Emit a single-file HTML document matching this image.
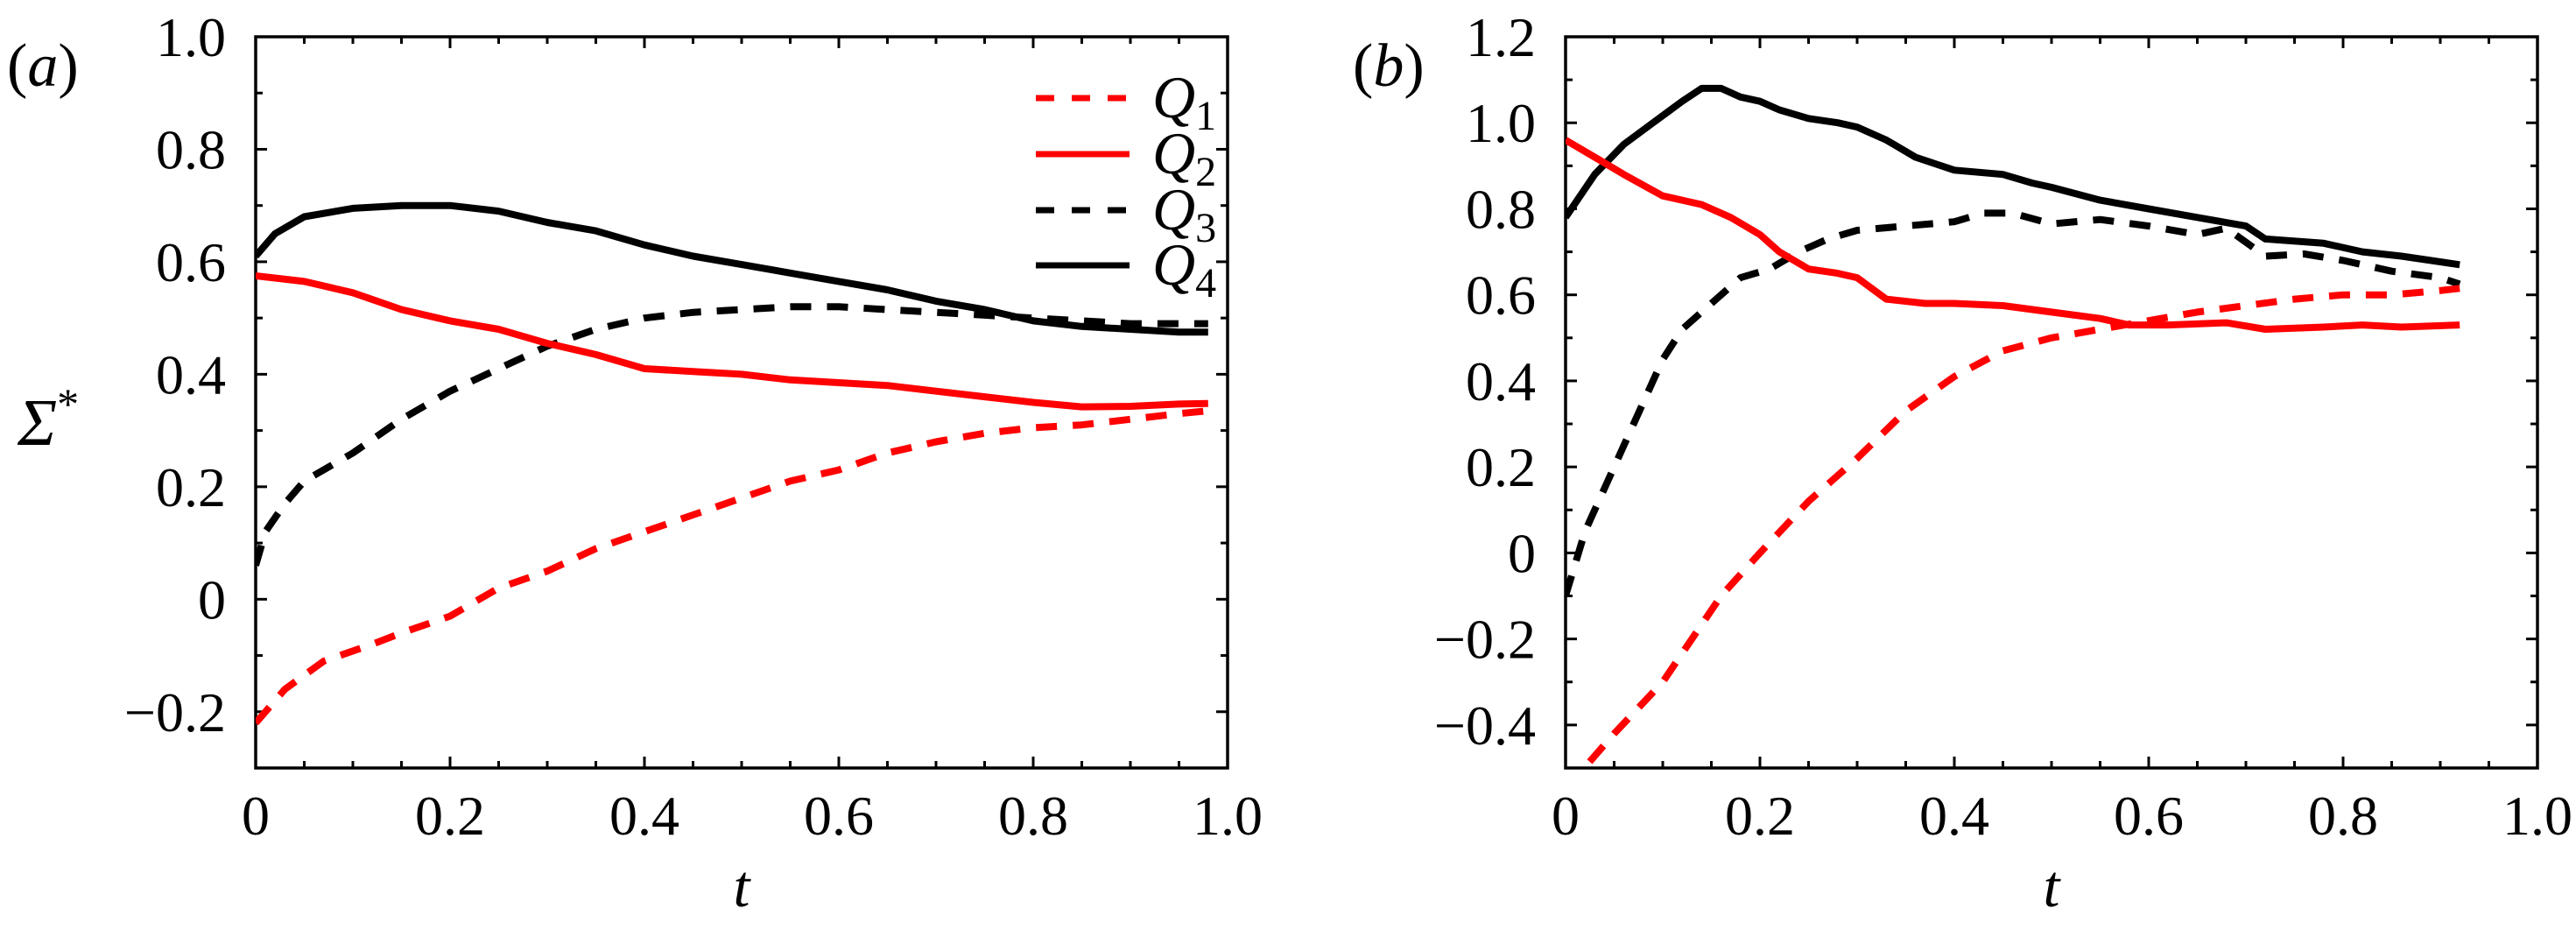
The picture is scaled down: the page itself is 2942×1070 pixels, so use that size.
<!DOCTYPE html>
<html><head><meta charset="utf-8">
<style>
html,body{margin:0;padding:0;background:#fff;}
svg{display:block;}
text{font-family:"Liberation Serif","DejaVu Serif",serif;fill:#000;}
</style></head>
<body>
<svg id="fig" width="2942" height="1070" viewBox="0 0 2942 1070" xmlns="http://www.w3.org/2000/svg">
<defs>
<clipPath id="clipA"><rect x="292" y="42" width="1110" height="835"/></clipPath>
<clipPath id="clipB"><rect x="1788" y="42" width="1110" height="835"/></clipPath>
</defs>
</svg>
<script>
// ---- Panel (a) data ----
const aQ1t = [0,0.03,0.07,0.12,0.15,0.2,0.25,0.3,0.35,0.4,0.45,0.5,0.55,0.6,0.65,0.7,0.75,0.8,0.85,0.9,0.95,0.98];
const aQ1v = [-0.22,-0.16,-0.11,-0.08,-0.06,-0.03,0.02,0.05,0.09,0.12,0.15,0.18,0.21,0.23,0.26,0.28,0.295,0.305,0.31,0.32,0.33,0.335];
const aQ2t = [0,0.05,0.1,0.15,0.2,0.25,0.3,0.35,0.4,0.45,0.5,0.55,0.6,0.65,0.7,0.75,0.8,0.85,0.9,0.95,0.98];
const aQ2v = [0.575,0.565,0.545,0.515,0.495,0.48,0.455,0.435,0.41,0.405,0.4,0.39,0.385,0.38,0.37,0.36,0.35,0.342,0.343,0.347,0.348];
const aQ3t = [0,0.01,0.03,0.05,0.1,0.15,0.2,0.25,0.3,0.35,0.4,0.45,0.5,0.55,0.6,0.65,0.7,0.75,0.8,0.85,0.9,0.95,0.98];
const aQ3v = [0.06,0.12,0.17,0.21,0.26,0.32,0.37,0.41,0.45,0.48,0.5,0.51,0.515,0.52,0.52,0.515,0.51,0.505,0.5,0.495,0.49,0.49,0.49];
const aQ4t = [0,0.02,0.05,0.1,0.15,0.2,0.25,0.3,0.35,0.4,0.45,0.5,0.55,0.6,0.65,0.7,0.75,0.8,0.85,0.9,0.95,0.98];
const aQ4v = [0.61,0.65,0.68,0.695,0.7,0.7,0.69,0.67,0.655,0.63,0.61,0.595,0.58,0.565,0.55,0.53,0.515,0.495,0.485,0.48,0.475,0.475];
// ---- Panel (b) data ----
const bQ1t = [0,0.05,0.1,0.13,0.16,0.2,0.25,0.3,0.35,0.4,0.45,0.5,0.55,0.6,0.65,0.7,0.75,0.8,0.85,0.9,0.92];
const bQ1v = [-0.55,-0.42,-0.3,-0.2,-0.1,0,0.12,0.22,0.33,0.41,0.47,0.5,0.52,0.54,0.56,0.575,0.59,0.6,0.6,0.61,0.615];
const bQ2t = [0,0.03,0.06,0.1,0.12,0.14,0.17,0.2,0.22,0.25,0.28,0.3,0.33,0.37,0.4,0.45,0.5,0.55,0.58,0.62,0.68,0.72,0.78,0.82,0.86,0.92];
const bQ2v = [0.96,0.92,0.88,0.83,0.82,0.81,0.78,0.74,0.7,0.66,0.65,0.64,0.59,0.58,0.58,0.575,0.56,0.545,0.53,0.53,0.535,0.52,0.525,0.53,0.525,0.53];
const bQ3t = [0,0.02,0.05,0.08,0.1,0.12,0.15,0.18,0.21,0.24,0.27,0.3,0.35,0.4,0.43,0.46,0.5,0.55,0.6,0.65,0.68,0.72,0.76,0.8,0.85,0.9,0.92];
const bQ3v = [-0.1,0.05,0.2,0.35,0.45,0.52,0.58,0.64,0.66,0.7,0.73,0.75,0.76,0.77,0.79,0.79,0.765,0.775,0.76,0.74,0.755,0.69,0.695,0.68,0.655,0.64,0.625];
const bQ4t = [0,0.03,0.06,0.09,0.12,0.14,0.16,0.18,0.2,0.22,0.25,0.28,0.3,0.33,0.36,0.4,0.45,0.48,0.5,0.55,0.6,0.65,0.7,0.72,0.78,0.82,0.86,0.92];
const bQ4v = [0.78,0.88,0.95,1.0,1.05,1.08,1.08,1.06,1.05,1.03,1.01,1.0,0.99,0.96,0.92,0.89,0.88,0.86,0.85,0.82,0.8,0.78,0.76,0.73,0.72,0.7,0.69,0.67];
// ---- ticks ----
const xTickLabels = ["0","0.2","0.4","0.6","0.8","1.0"];
const xTickValues = [0,0.2,0.4,0.6,0.8,1.0];
const aYTickValues = [-0.2,0,0.2,0.4,0.6,0.8,1.0];
const aYTickLabels = ["\u22120.2","0","0.2","0.4","0.6","0.8","1.0"];
const bYTickValues = [-0.4,-0.2,0,0.2,0.4,0.6,0.8,1.0,1.2];
const bYTickLabels = ["\u22120.4","\u22120.2","0","0.2","0.4","0.6","0.8","1.0","1.2"];

const NS = "http://www.w3.org/2000/svg";
const svg = document.getElementById('fig');
function mk(tag, attrs, parent){
  const e = document.createElementNS(NS, tag);
  for (const k in attrs) e.setAttribute(k, attrs[k]);
  (parent||svg).appendChild(e);
  return e;
}
function panel(cfg){
  const L=cfg.left, T=42, W=1110, H=835, B=T+H, R=L+W;
  const xs = v => L + v*W;
  const ys = v => T + (cfg.ymax - v)/(cfg.ymax-cfg.ymin)*H;
  const g = mk('g', {});
  
  
  for (let v=0; v<=1.0001; v+=0.05){
    const major = Math.abs(v*5-Math.round(v*5))<1e-6;
    const len = major?13:8;
    const t1 = mk('line',{x1:xs(v),x2:xs(v),y1:B,y2:B-len,stroke:'#000','stroke-width':3},g);
    
    
    const t2 = mk('line',{x1:xs(v),x2:xs(v),y1:T,y2:T+len,stroke:'#000','stroke-width':3},g);
    
    
  }
  for (let i=Math.ceil(cfg.ymin*10); i<=Math.floor(cfg.ymax*10); i++){
    const v=i/10;
    const major = i%2===0;
    const len = major?13:8;
    const t1 = mk('line',{x1:L,x2:L+len,y1:ys(v),y2:ys(v),stroke:'#000','stroke-width':3},g);
    
    
    const t2 = mk('line',{x1:R,x2:R-len,y1:ys(v),y2:ys(v),stroke:'#000','stroke-width':3},g);
    
    
  }
  const frame = mk('rect',{x:L,y:T,width:W,height:H,fill:'none',stroke:'#000','stroke-width':3.5},g);
  
  
  xTickValues.forEach((v,i)=>{
    const t = mk('text',{x:xs(v),y:B+76,'font-size':64,'text-anchor':'middle'},g);
    t.textContent = xTickLabels[i];
    
    
  });
  cfg.yv.forEach((v,i)=>{
    const t = mk('text',{x:L-34,y:ys(v)+22,'font-size':64,'text-anchor':'end'},g);
    t.textContent = cfg.yl[i];
    
    
  });
  const xl = mk('text',{x:L+W/2,y:1035,'font-size':68,'font-style':'italic','text-anchor':'middle'},g);
  xl.textContent='t';
  
  
  const pl = mk('text',{x:cfg.lblx,y:98,'font-size':70},g);
  pl.innerHTML = '(<tspan font-style="italic">'+cfg.letter+'</tspan>)';
  
  
  const cg = mk('g',{'clip-path':'url(#'+cfg.clip+')'},g);
  cfg.series.forEach(s=>{
    const d = s.t.map((t,i)=>(i?'L':'M')+xs(t).toFixed(1)+','+ys(s.v[i]).toFixed(1)).join(' ');
    const p = mk('path',{d:d,fill:'none',stroke:s.c,'stroke-width':8,'stroke-linejoin':'round'},cg);
    if (s.dash) p.setAttribute('stroke-dasharray','24 18');
    
    
  });
}
panel({name:'panel-a',left:292,ymin:-0.3,ymax:1.0,yv:aYTickValues,yl:aYTickLabels,letter:'a',lblx:8,clip:'clipA',
  series:[{t:aQ3t,v:aQ3v,c:'#000',dash:true,name:'q3-line-a'},{t:aQ4t,v:aQ4v,c:'#000',dash:false,name:'q4-line-a'},
          {t:aQ1t,v:aQ1v,c:'#ff0000',dash:true,name:'q1-line-a'},{t:aQ2t,v:aQ2v,c:'#ff0000',dash:false,name:'q2-line-a'}]});
panel({name:'panel-b',left:1788,ymin:-0.5,ymax:1.2,yv:bYTickValues,yl:bYTickLabels,letter:'b',lblx:1545,clip:'clipB',
  series:[{t:bQ3t,v:bQ3v,c:'#000',dash:true,name:'q3-line-b'},{t:bQ4t,v:bQ4v,c:'#000',dash:false,name:'q4-line-b'},
          {t:bQ1t,v:bQ1v,c:'#ff0000',dash:true,name:'q1-line-b'},{t:bQ2t,v:bQ2v,c:'#ff0000',dash:false,name:'q2-line-b'}]});
const yt = mk('text',{x:20,y:508,'font-size':76,'font-style':'italic'});
yt.innerHTML = '\u03A3<tspan dy="-30" font-size="50" font-style="normal">*</tspan>';


const legNames = ['1','2','3','4'];
const legColors = ['#ff0000','#ff0000','#000','#000'];
const legDash = [true,false,true,false];
const legY = [112,176,240,303];
const lg = mk('g',{});


legNames.forEach((n,i)=>{
  const l = mk('line',{x1:1183,x2:1290,y1:legY[i],y2:legY[i],stroke:legColors[i],'stroke-width':7},lg);
  if (legDash[i]) l.setAttribute('stroke-dasharray','21 20');
  
  
  const t = mk('text',{x:1316,y:legY[i]+22,'font-size':68,'font-style':'italic'},lg);
  t.innerHTML = 'Q<tspan dy="14" font-size="48" font-style="normal">'+n+'</tspan>';
  
  
});
</script>
</body></html>
